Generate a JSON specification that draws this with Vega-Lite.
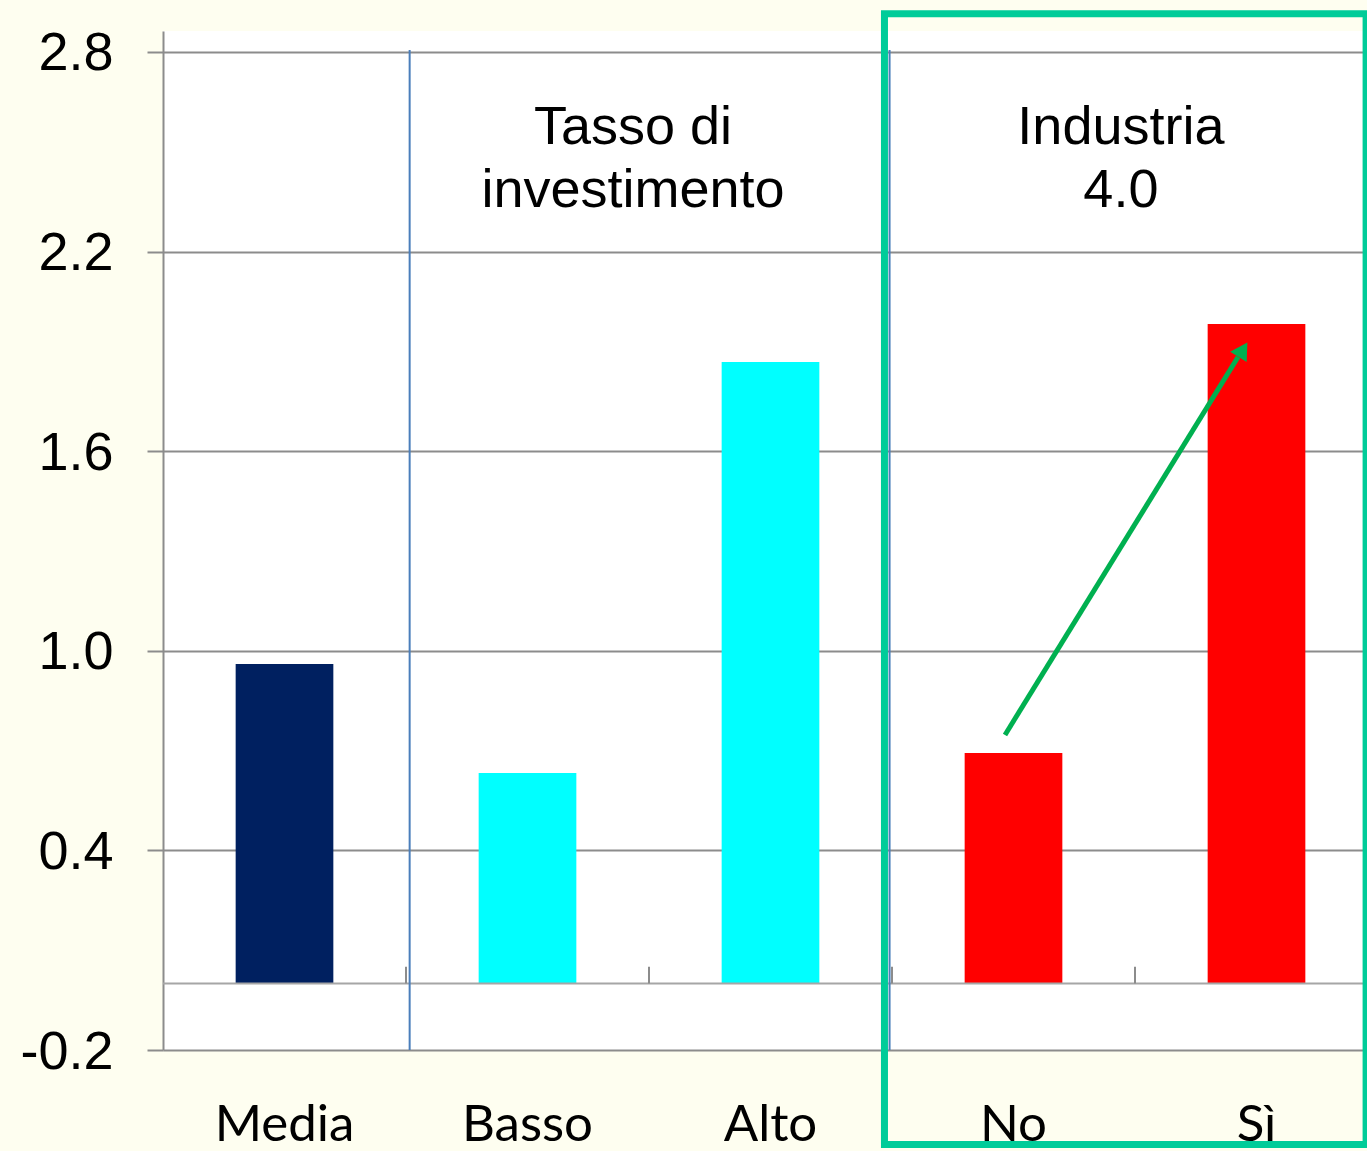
{
  "$schema": "https://vega.github.io/schema/vega-lite/v6.json",
  "width": 1215,
  "height": 1019,
  "autosize": {"type": "none"},
  "padding": {"left": 163, "top": 31, "right": 0, "bottom": 101},
  "background": "#FEFEF0",
  "view": {"fill": "white", "stroke": null},
  "resolve": {"scale": {"x": "independent"}, "axis": {"x": "independent"}},
  "layer": [
    {
      "data": {"values": [
        {"categoria": "Media", "gruppo": "Media", "valore": 0.96},
        {"categoria": "Basso", "gruppo": "Tasso di investimento", "valore": 0.633},
        {"categoria": "Alto", "gruppo": "Tasso di investimento", "valore": 1.868},
        {"categoria": "No", "gruppo": "Industria 4.0", "valore": 0.693},
        {"categoria": "Sì", "gruppo": "Industria 4.0", "valore": 1.982}
      ]},
      "mark": {"type": "bar", "width": {"band": 0.402}},
      "encoding": {
        "x": {
          "field": "categoria", "type": "nominal", "sort": null,
          "scale": {"paddingInner": 0, "paddingOuter": 0},
          "axis": {
            "title": null, "orient": "bottom", "domain": false, "ticks": false, "grid": false,
            "labelAngle": 0, "labelFont": "Lato", "labelFontSize": 51, "labelColor": "black",
            "labelBaseline": "alphabetic", "labelPadding": 90
          }
        },
        "y": {
          "field": "valore", "type": "quantitative", "title": null,
          "scale": {"domain": [-0.2, 2.863], "nice": false, "zero": false},
          "axis": {
            "title": null, "orient": "left",
            "values": [-0.2, 0.4, 1.0, 1.6, 2.2, 2.8],
            "labelExpr": "datum.value < 0 ? '-' + format(-datum.value, '.1f') : format(datum.value, '.1f')",
            "labelFont": "Liberation Sans", "labelFontSize": 54, "labelColor": "black",
            "labelPadding": 34, "labelOffset": 2,
            "tickSize": 16, "tickColor": "#8C8C8C", "tickWidth": 2,
            "domain": true, "domainColor": "#8C8C8C", "domainWidth": 2,
            "grid": true, "gridColor": "#8C8C8C", "gridWidth": 2
          }
        },
        "color": {
          "field": "categoria", "type": "nominal", "legend": null,
          "scale": {"domain": ["Media", "Basso", "Alto", "No", "Sì"],
                    "range": ["#002060", "#00FFFF", "#00FFFF", "#FF0000", "#FF0000"]}
        }
      }
    },
    {
      "data": {"values": [{}]},
      "mark": {"type": "rule", "color": "#A6A6A6", "strokeWidth": 2},
      "encoding": {
        "x": {"datum": 0, "type": "quantitative", "scale": {"domain": [0, 5]}, "axis": null},
        "x2": {"datum": 5},
        "y": {"datum": 0, "type": "quantitative", "title": null}
      }
    },
    {
      "data": {"values": [{"k": 1}, {"k": 2}, {"k": 3}, {"k": 4}]},
      "mark": {"type": "rule", "color": "#8C8C8C", "strokeWidth": 2},
      "encoding": {
        "x": {"field": "k", "type": "quantitative", "scale": {"domain": [0, 5]}, "axis": null, "title": null},
        "y": {"datum": 0, "type": "quantitative", "title": null},
        "y2": {"datum": 0.05}
      }
    },
    {
      "data": {"values": [{"k": 1.015}, {"k": 2.99}]},
      "mark": {"type": "rule", "color": "#4A7EBB", "strokeWidth": 2},
      "encoding": {
        "x": {"field": "k", "type": "quantitative", "scale": {"domain": [0, 5]}, "axis": null, "title": null},
        "y": {"datum": -0.2, "type": "quantitative", "title": null},
        "y2": {"datum": 2.806}
      }
    },
    {
      "data": {"values": [{}]},
      "mark": {"type": "text", "text": ["Tasso di", "investimento"], "font": "Liberation Sans", "fontSize": 54, "lineHeight": 63, "align": "center", "baseline": "alphabetic", "color": "black"},
      "encoding": {
        "x": {"datum": 1.934, "type": "quantitative", "scale": {"domain": [0, 5]}, "axis": null},
        "y": {"datum": 2.524, "type": "quantitative", "title": null}
      }
    },
    {
      "data": {"values": [{}]},
      "mark": {"type": "text", "text": ["Industria", "4.0"], "font": "Liberation Sans", "fontSize": 54, "lineHeight": 63, "align": "center", "baseline": "alphabetic", "color": "black"},
      "encoding": {
        "x": {"datum": 3.942, "type": "quantitative", "scale": {"domain": [0, 5]}, "axis": null},
        "y": {"datum": 2.524, "type": "quantitative", "title": null}
      }
    },
    {
      "data": {"values": [{}]},
      "mark": {"type": "rule", "color": "#00B050", "strokeWidth": 5},
      "encoding": {
        "x": {"datum": 3.465, "type": "quantitative", "scale": {"domain": [0, 5]}, "axis": null},
        "x2": {"datum": 4.424},
        "y": {"datum": 0.747, "type": "quantitative", "title": null},
        "y2": {"datum": 1.883}
      }
    },
    {
      "data": {"values": [{}]},
      "mark": {"type": "point", "shape": "triangle-up", "filled": true, "color": "#00B050", "opacity": 1, "size": 380, "angle": 32},
      "encoding": {
        "x": {"datum": 4.444, "type": "quantitative", "scale": {"domain": [0, 5]}, "axis": null},
        "y": {"datum": 1.905, "type": "quantitative", "title": null}
      }
    },
    {
      "data": {"values": [{}]},
      "mark": {"type": "rect", "fillOpacity": 0, "fill": "white", "stroke": "#00CC99", "strokeWidth": 7, "clip": false},
      "encoding": {
        "x": {"datum": 2.969, "type": "quantitative", "scale": {"domain": [0, 5]}, "axis": null},
        "x2": {"datum": 4.951},
        "y": {"datum": 2.915, "type": "quantitative", "title": null},
        "y2": {"datum": -0.484}
      }
    }
  ]
}
